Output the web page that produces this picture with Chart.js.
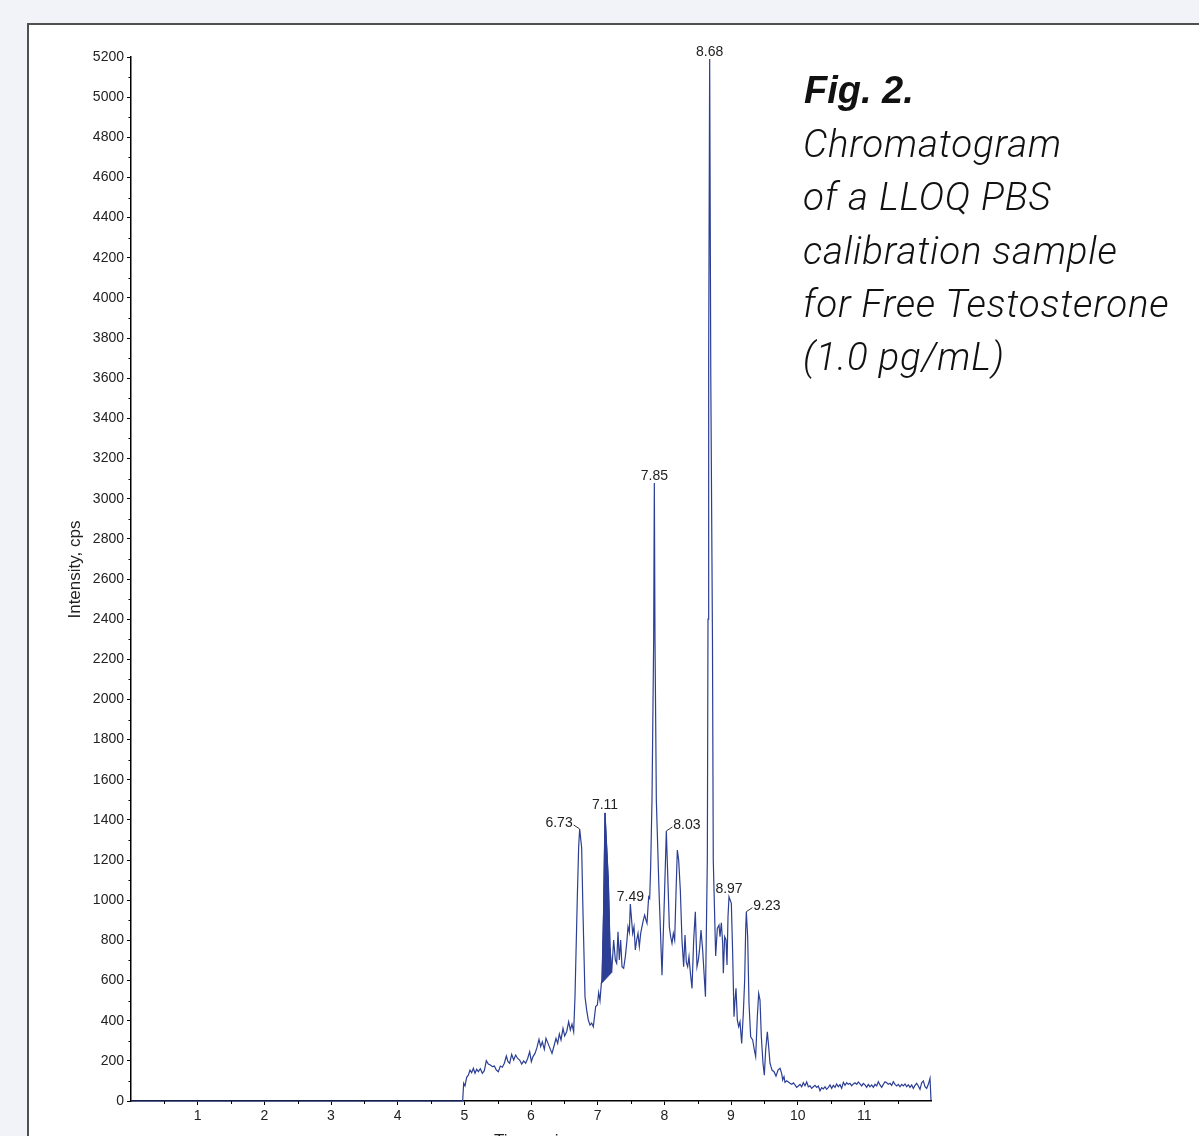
<!DOCTYPE html>
<html>
<head>
<meta charset="utf-8">
<title>Chromatogram LLOQ PBS</title>
<script src="https://cdn.jsdelivr.net/npm/chart.js@4.4.1/dist/chart.umd.min.js"></script>
<style>
  html, body { margin: 0; padding: 0; overflow: hidden; }
  body { width: 1199px; height: 1136px; background: #f1f3f8; position: relative; }
  #frame { position: absolute; left: 27px; top: 23px; width: 1300px; height: 1300px;
           border: 2px solid #505050; background: #fff; }
  #chart { position: absolute; left: 0; top: 0; }
  .caption { position: absolute; left: 803px; color: #111; font-style: italic; white-space: nowrap; }
  #fig { top: 71px; left: 804px; font: bold italic 38px/38px "Liberation Sans", Arial, sans-serif; }
  #desc { top: 117px; font-family: Roboto, sans-serif; font-weight: 300;
          font-size: 38.5px; letter-spacing: 0.8px; line-height: 53.3px; }
</style>
</head>
<body>
<div id="frame"></div>
<canvas id="chart" width="1199" height="1154"></canvas>
<div class="caption" id="fig">Fig. 2.</div>
<div class="caption" id="desc">Chromatogram<br>of a LLOQ PBS<br>calibration sample<br>for Free Testosterone<br>(1.0 pg/mL)</div>
<script>
// retention time (min) and signal (cps)
const timeMin = [
  0, 4.975, 4.99, 5.01, 5.035, 5.06, 5.085, 5.11, 5.135, 5.16,
  5.185, 5.21, 5.24, 5.27, 5.30, 5.33, 5.36, 5.39, 5.42, 5.45,
  5.48, 5.51, 5.54, 5.57, 5.60, 5.63, 5.655, 5.68, 5.71, 5.74,
  5.77, 5.80, 5.83, 5.86, 5.89, 5.92, 5.95, 5.98, 6.005, 6.03,
  6.06, 6.09, 6.12, 6.145, 6.17, 6.20, 6.225, 6.255, 6.285, 6.315,
  6.345, 6.375, 6.40, 6.425, 6.45, 6.48, 6.505, 6.535, 6.565, 6.59,
  6.615, 6.64, 6.66, 6.695, 6.715, 6.73, 6.76, 6.78, 6.81, 6.835,
  6.86, 6.885, 6.91, 6.935, 6.95, 6.97, 6.995, 7.015, 7.035, 7.055,
  7.065, 7.088, 7.11, 7.16, 7.185, 7.21, 7.24, 7.265, 7.285, 7.305,
  7.325, 7.345, 7.365, 7.39, 7.415, 7.44, 7.455, 7.475, 7.49, 7.525,
  7.545, 7.565, 7.585, 7.605, 7.625, 7.645, 7.665, 7.685, 7.705, 7.725,
  7.74, 7.765, 7.78, 7.795, 7.815, 7.84, 7.85, 7.86, 7.88, 7.92,
  7.965, 8.00, 8.03, 8.055, 8.075, 8.095, 8.115, 8.135, 8.155, 8.175,
  8.195, 8.215, 8.24, 8.265, 8.29, 8.31, 8.33, 8.35, 8.37, 8.39,
  8.415, 8.44, 8.465, 8.49, 8.51, 8.53, 8.55, 8.575, 8.595, 8.617,
  8.645, 8.655, 8.665, 8.68, 8.697, 8.722, 8.734, 8.77, 8.795, 8.82,
  8.835, 8.855, 8.875, 8.885, 8.905, 8.925, 8.94, 8.955, 8.97, 9.005,
  9.025, 9.045, 9.06, 9.075, 9.095, 9.115, 9.135, 9.16, 9.185, 9.205,
  9.22, 9.23, 9.25, 9.27, 9.295, 9.325, 9.35, 9.37, 9.395, 9.415,
  9.435, 9.455, 9.48, 9.50, 9.52, 9.545, 9.565, 9.585, 9.615, 9.645,
  9.675, 9.705, 9.735, 9.76, 9.775, 9.795, 9.81, 9.835, 9.86, 9.885,
  9.91, 9.935, 9.96, 9.985, 10.01, 10.035, 10.06, 10.085, 10.11, 10.135,
  10.16, 10.185, 10.21, 10.235, 10.26, 10.285, 10.31, 10.335, 10.36, 10.385,
  10.41, 10.435, 10.46, 10.485, 10.51, 10.535, 10.56, 10.585, 10.61, 10.635,
  10.66, 10.685, 10.71, 10.735, 10.76, 10.785, 10.81, 10.835, 10.86, 10.885,
  10.91, 10.935, 10.96, 10.985, 11.01, 11.035, 11.06, 11.085, 11.11, 11.135,
  11.16, 11.185, 11.21, 11.235, 11.26, 11.285, 11.31, 11.335, 11.36, 11.385,
  11.41, 11.435, 11.46, 11.485, 11.51, 11.535, 11.56, 11.585, 11.61, 11.635,
  11.66, 11.685, 11.71, 11.735, 11.76, 11.785, 11.81, 11.835, 11.86, 11.885,
  11.91, 11.935, 11.96, 11.985, 12.0
];
const intensityCps = [
  0, 0, 88, 75, 118, 129, 154, 141, 163, 138,
  158, 146, 161, 138, 151, 201, 184, 179, 171, 174,
  154, 146, 174, 168, 188, 224, 196, 188, 232, 204,
  229, 212, 204, 184, 199, 188, 212, 246, 196, 221,
  237, 267, 307, 271, 295, 257, 312, 287, 262, 237,
  274, 312, 287, 334, 304, 362, 324, 345, 395, 354,
  383, 345, 520, 1017, 1267, 1355, 1260, 936, 520, 453,
  403, 378, 388, 370, 413, 470, 478, 540, 500, 585,
  603, 936, 1435, 1100, 768, 640, 802, 702, 686, 843,
  702, 802, 669, 661, 719, 802, 868, 840, 981, 835,
  868, 752, 802, 835, 769, 835, 868, 901, 926, 901,
  885, 1017, 1009, 1167, 1499, 2300, 3078, 2300, 1499, 1050,
  627, 1000, 1345, 1084, 868, 818, 785, 835, 802, 1034,
  1250, 1200, 1050, 800, 669, 827, 690, 669, 719, 640,
  561, 800, 943, 669, 702, 760, 852, 752, 640, 519,
  1200, 2400, 3700, 5190, 3600, 2300, 1200, 722, 860, 876,
  818, 888, 785, 636, 818, 802, 677, 918, 1017, 985,
  735, 420, 503, 561, 403, 370, 395, 287, 437, 603,
  852, 943, 818, 487, 320, 304, 254, 221, 420, 536,
  503, 320, 188, 129, 254, 345, 270, 188, 154, 146,
  124, 154, 163, 138, 105, 121, 93, 101, 95, 88,
  83, 90, 80, 68, 75, 83, 71, 91, 76, 95,
  71, 76, 63, 71, 78, 68, 75, 51, 66, 60,
  71, 58, 68, 80, 63, 78, 68, 85, 71, 81,
  63, 93, 78, 91, 83, 88, 76, 85, 91, 83,
  95, 85, 75, 88, 80, 68, 83, 71, 80, 68,
  83, 75, 96, 80, 68, 83, 96, 91, 83, 88,
  78, 96, 83, 75, 83, 71, 83, 75, 85, 71,
  81, 68, 80, 63, 78, 88, 75, 58, 91, 100,
  71, 63, 83, 113, 5
];

const peakTimes = [6.73, 7.11, 7.49, 7.85, 8.03, 8.68, 8.97, 9.23];
const integratedPeak = [7.055, 7.21]; // start / end of the shaded peak

const xTicks = [1, 2, 3, 4, 5, 6, 7, 8, 9, 10, 11];
const xMinorTicks = [0.5, 1.5, 2.5, 3.5, 4.5, 5.5, 6.5, 7.5, 8.5, 9.5, 10.5, 11.5];
const yTicks = [0, 200, 400, 600, 800, 1000, 1200, 1400, 1600, 1800, 2000, 2200, 2400, 2600,
                2800, 3000, 3200, 3400, 3600, 3800, 4000, 4200, 4400, 4600, 4800, 5000, 5200];
const yMinorTicks = [100, 300, 500, 700, 900, 1100, 1300, 1500, 1700, 1900, 2100, 2300, 2500,
                     2700, 2900, 3100, 3300, 3500, 3700, 3900, 4100, 4300, 4500, 4700, 4900, 5100];

if (timeMin.length !== intensityCps.length) console.error('length mismatch');

const BLUE = '#2c3f94';
const FONT = '"Liberation Sans", Arial, sans-serif';

const trace = timeMin.map((t, i) => ({ x: t, y: intensityCps[i] }));
const shaded = trace.filter(p => p.x >= integratedPeak[0] && p.x <= integratedPeak[1]);
const shadedBase = [shaded[0], shaded[shaded.length - 1]];

const minorTicks = {
  id: 'minorTicks',
  afterDraw(chart) {
    const { ctx, scales: { x, y } } = chart;
    ctx.save();
    ctx.strokeStyle = '#000';
    ctx.lineWidth = 1;
    ctx.beginPath();
    xMinorTicks.forEach(v => {
      const px = Math.round(x.getPixelForValue(v)) + 0.5;
      ctx.moveTo(px, x.top);
      ctx.lineTo(px, x.top + 3);
    });
    yMinorTicks.forEach(v => {
      const py = Math.round(y.getPixelForValue(v)) + 0.5;
      ctx.moveTo(y.right - 2.5, py);
      ctx.lineTo(y.right, py);
    });
    ctx.stroke();
    ctx.restore();
  }
};

// retention time labels; a few sit beside the peak with a short leader
const leaderSide = { 6.73: 'left', 8.03: 'right', 9.23: 'right' };
const peakLabels = {
  id: 'peakLabels',
  afterDatasetsDraw(chart) {
    const { ctx, scales: { x, y } } = chart;
    ctx.save();
    ctx.font = '14px ' + FONT;
    ctx.fillStyle = '#222';
    ctx.strokeStyle = '#333';
    ctx.lineWidth = 1;
    peakTimes.forEach(t => {
      const k = timeMin.indexOf(t);
      const px = x.getPixelForValue(t);
      const py = y.getPixelForValue(intensityCps[k]);
      const txt = t.toFixed(2);
      const side = leaderSide[t];
      if (side === 'left' || side === 'right') {
        const d = side === 'left' ? -1 : 1;
        ctx.beginPath();
        ctx.moveTo(px, py);
        ctx.lineTo(px + d * 6, py - 4);
        ctx.stroke();
        ctx.textAlign = side === 'left' ? 'right' : 'left';
        ctx.textBaseline = 'middle';
        ctx.fillText(txt, px + d * 7, py - 6);
      } else {
        ctx.textAlign = 'center';
        ctx.textBaseline = 'alphabetic';
        ctx.fillText(txt, px, py - 3.5);
      }
    });
    ctx.restore();
  }
};

new Chart(document.getElementById('chart'), {
  type: 'line',
  data: {
    datasets: [
      { data: trace, borderColor: BLUE, borderWidth: 1.2, pointRadius: 0, fill: false, clip: 4 },
      { data: shaded, borderColor: BLUE, borderWidth: 1, pointRadius: 0,
        backgroundColor: BLUE, fill: { target: 2 } },
      { data: shadedBase, borderColor: BLUE, borderWidth: 1, pointRadius: 0, fill: false }
    ]
  },
  options: {
    responsive: false,
    animation: false,
    devicePixelRatio: 1,
    layout: { padding: { left: 60, top: 57, right: 268, bottom: 0 } },
    plugins: { legend: { display: false }, tooltip: { enabled: false } },
    scales: {
      x: {
        type: 'linear', min: 0, max: 12,
        afterBuildTicks: s => { s.ticks = xTicks.map(v => ({ value: v })); },
        afterFit: s => { s.height = 53; },
        ticks: { autoSkip: false, maxRotation: 0, padding: 3, color: '#222',
                 font: { family: FONT, size: 14 }, callback: v => String(v) },
        grid: { drawOnChartArea: false, drawTicks: true, tickLength: 4, color: '#000' },
        border: { display: true, color: '#000', width: 1.5 },
        title: { display: true, text: 'Time, min', color: '#222',
                 font: { family: FONT, size: 17 }, padding: { top: 0, bottom: 2 } }
      },
      y: {
        min: 0, max: 5200,
        afterBuildTicks: s => { s.ticks = yTicks.map(v => ({ value: v })); },
        afterFit: s => { s.width = 71; },
        ticks: { autoSkip: false, padding: 3, color: '#222',
                 font: { family: FONT, size: 14 }, callback: v => String(v) },
        grid: { drawOnChartArea: false, drawTicks: true, tickLength: 4, color: '#000' },
        border: { display: true, color: '#000', width: 1.5 },
        // leading spaces nudge the centred title up a little, as in the original
        title: { display: true, text: '    Intensity, cps', color: '#222',
                 font: { family: FONT, size: 17 }, padding: { top: 5, bottom: 0 } }
      }
    }
  },
  plugins: [minorTicks, peakLabels]
});
</script>
</body>
</html>
